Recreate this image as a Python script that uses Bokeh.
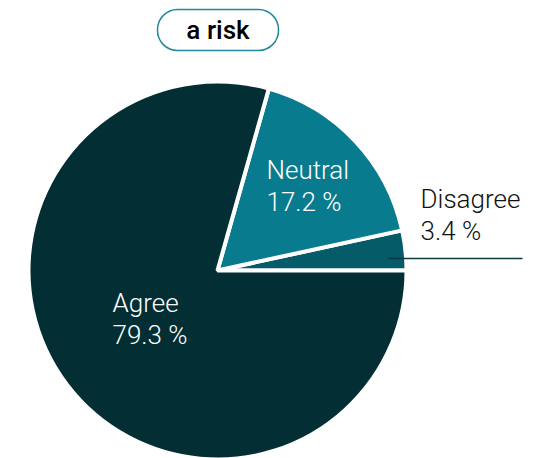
import math
from bokeh.plotting import figure
from bokeh.models import Range1d, BoxAnnotation, ColumnDataSource
from bokeh.core.properties import value
from bokeh.embed import file_html
from bokeh.resources import INLINE

# ---- data ----
title_text = "a risk"
categories = ["Disagree", "Neutral", "Agree"]
values = [3.4, 17.2, 79.3]
colors = ["#065b69", "#087c8e", "#032e33"]

W, H = 535, 458
p = figure(width=W, height=H, output_backend="svg", toolbar_location=None,
           x_range=Range1d(0, W), y_range=Range1d(0, H),
           x_axis_location=None, y_axis_location=None, min_border=0)
p.grid.visible = False
p.outline_line_color = None
p.background_fill_color = "white"
p.border_fill_color = "white"

def Y(py):
    return H - py

cx, cy, r = 217, Y(270), 189
total = sum(values)
starts, ends = [], []
acc = 0.0
for v in values:
    starts.append(2 * math.pi * acc / total)
    acc += v
    ends.append(2 * math.pi * acc / total)

src = ColumnDataSource(dict(cat=categories, val=values, start=starts, end=ends, color=colors))
p.wedge(x=cx, y=cy, radius=r, start_angle="start", end_angle="end", source=src,
        fill_color="color", line_color="white", line_width=4, direction="anticlock")

font = value("Roboto Light")
fs = "26px"
dy = -11  # baseline correction
lab_pos = {"Disagree": (420, 209, "#111111"), "Neutral": (266, 180, "white"), "Agree": (112, 313, "white")}
for c, v in zip(categories, values):
    x, y, col = lab_pos[c]
    p.text(x=[x], y=[Y(y + dy)], text=[c], text_font=font, text_font_size=fs,
           text_color=col, text_baseline="alphabetic", text_align="left")
    p.text(x=[x], y=[Y(y + 32 + dy)], text=[f"{v} %"], text_font=font, text_font_size=fs,
           text_color=col, text_baseline="alphabetic", text_align="left")

# leader line for Disagree
p.line(x=[388, 522], y=[Y(258), Y(258)], line_color="#0d3a40", line_width=1.3)

# title pill
p.add_layout(BoxAnnotation(left=157, right=278, top=Y(9), bottom=Y(50), border_radius=20,
                           fill_color=None, fill_alpha=0, line_color="#1f8a98", line_alpha=1,
                           line_width=1.5))
p.text(x=[217.5], y=[Y(40 + dy)], text=[title_text], text_font=value("Roboto Medium"),
       text_font_size="26px", text_color="black", text_align="center", text_baseline="alphabetic")

open("out.html", "w").write(file_html(p, INLINE))
